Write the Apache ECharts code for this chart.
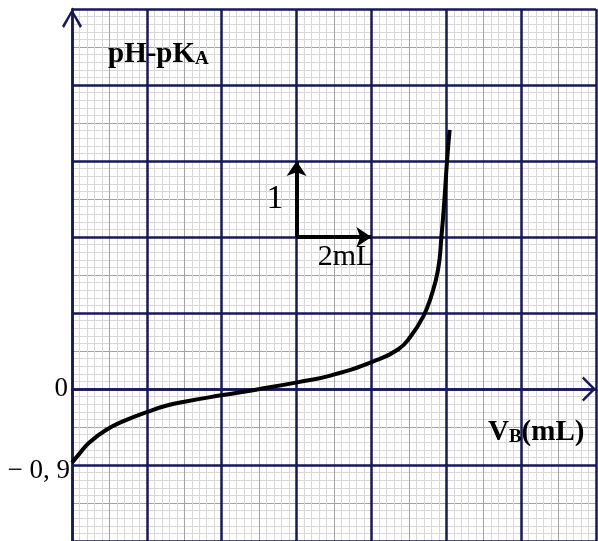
<!DOCTYPE html>
<html>
<head>
<meta charset="utf-8">
<script src="https://cdn.jsdelivr.net/npm/echarts@6/dist/echarts.min.js"></script>
<style>
html,body{margin:0;padding:0;background:#fff}
#main{width:598px;height:541px}
</style>
</head>
<body>
<div id="main"></div>
<script>
// titration curve
const vb = [0, 0.2, 0.45, 0.91, 1.44, 2.02, 2.51, 2.97, 4.03, 5.02, 6.05, 6.93, 8.04, 8.71, 9.06, 9.38, 9.59, 9.78, 9.87, 9.95, 10.02, 10.09]
const ph = [-0.97, -0.85, -0.71, -0.54, -0.41, -0.3, -0.22, -0.17, -0.08, 0, 0.09, 0.18, 0.36, 0.52, 0.7, 0.95, 1.21, 1.57, 2.0, 2.49, 3.0, 3.41]

// scale arrows : 1 unit up, 2 mL right
const arrowV = [[6, 2], [6, 3]]
const arrowH = [[6, 2], [8, 2]]
const arrowLabels = ['1', '2mL']

const yLabels = {0: '0'}
const startLabel = '− 0, 9'

const navy = '#17175c'
const serif = 'Liberation Serif'

const xChev = 'path://M12.5,0 L25,12.5 L23,14 L12.5,3.5 L2,14 L0,12.5 Z'
const yChev = 'path://M10,0 L20,17 L18,19 L10,4.5 L2,19 L0,17 Z'

var myChart = echarts.init(document.getElementById('main'))

let curve = vb.map((v, i) => [v, ph[i]])

function mid(a) {
    return [(a[0][0] + a[1][0]) / 2, (a[0][1] + a[1][1]) / 2]
}

let hidden = {
    axisLine: {show: false},
    axisTick: {show: false},
    axisLabel: {show: false}
}

let richTxt = {
    m: {fontFamily: serif, fontSize: 29, fontWeight: 'bold', color: '#000', lineHeight: 32, verticalAlign: 'bottom'},
    s: {fontFamily: serif, fontSize: 19, fontWeight: 'bold', color: '#000', lineHeight: 32, verticalAlign: 'bottom'}
}

var option = {
    animation: false,
    grid: {left: 72, right: 2, top: 9, bottom: 0},
    title: [
        {
            text: '{m|pH-pK}{s|A}',
            left: 108, top: 37, padding: 0,
            textStyle: {rich: richTxt}
        },
        {
            text: '{m|V}{s|B}{m|(mL)}',
            left: 488, top: 415, padding: 0,
            textStyle: {rich: richTxt}
        }
    ],
    xAxis: [
        {
            type: 'value', min: 0, max: 14, interval: 1,
            axisLine: {
                show: true, onZero: true,
                lineStyle: {color: navy, width: 2.5},
                symbol: ['none', xChev], symbolSize: [25, 14], symbolOffset: [0, -7]
            },
            axisTick: {show: false},
            axisLabel: {show: false},
            splitLine: {show: true, lineStyle: {color: '#a3a3a3', width: 1}},
            minorTick: {show: false, splitNumber: 5},
            minorSplitLine: {show: true, lineStyle: {color: '#d8d8d8', width: 1}}
        },
        {
            type: 'value', min: 0, max: 14, interval: 2, z: 1,
            ...hidden,
            splitLine: {show: true, lineStyle: {color: navy, width: 2.5}}
        }
    ],
    yAxis: [
        {
            type: 'value', min: -2, max: 5, interval: 0.5,
            axisLine: {
                show: true,
                lineStyle: {color: navy, width: 2.5},
                symbol: ['none', yChev], symbolSize: [20, 19], symbolOffset: [0, -9.5]
            },
            axisTick: {show: false},
            axisLabel: {
                formatter: v => yLabels[v] || '',
                fontFamily: serif, fontSize: 27, color: '#000', margin: 4
            },
            splitLine: {show: true, lineStyle: {color: '#a3a3a3', width: 1}},
            minorTick: {show: false, splitNumber: 5},
            minorSplitLine: {show: true, lineStyle: {color: '#d8d8d8', width: 1}}
        },
        {
            type: 'value', min: -2, max: 5, interval: 1, z: 1,
            ...hidden,
            splitLine: {show: true, lineStyle: {color: navy, width: 2.5}}
        }
    ],
    series: [
        {
            type: 'line',
            data: curve,
            smooth: 0.5,
            symbol: 'none',
            lineStyle: {color: '#000', width: 4},
            z: 5,
            markPoint: {
                symbol: 'circle', symbolSize: 0, silent: true,
                data: [{
                    coord: curve[0],
                    label: {
                        show: true, position: 'left', distance: 2, offset: [0, 8],
                        formatter: startLabel,
                        fontFamily: serif, fontSize: 27, color: '#000'
                    }
                }]
            }
        },
        {
            type: 'lines',
            coordinateSystem: 'cartesian2d',
            data: [{coords: arrowV}, {coords: arrowH}],
            symbol: ['none', 'arrow'],
            symbolSize: [14, 15],
            symbolOffset: [0, 7],
            lineStyle: {color: '#000', width: 4, opacity: 1},
            z: 5
        },
        {
            type: 'scatter',
            symbolSize: 0,
            silent: true,
            itemStyle: {opacity: 1},
            data: [
                {
                    value: mid(arrowV),
                    label: {show: true, position: 'left', distance: 13, formatter: arrowLabels[0],
                        fontFamily: serif, fontSize: 34, color: '#000', opacity: 1}
                },
                {
                    value: mid(arrowH),
                    label: {show: true, position: 'bottom', distance: 5, offset: [12, 0], formatter: arrowLabels[1],
                        fontFamily: serif, fontSize: 30, color: '#000', opacity: 1}
                }
            ]
        }
    ]
}

myChart.setOption(option)
</script>
</body>
</html>
